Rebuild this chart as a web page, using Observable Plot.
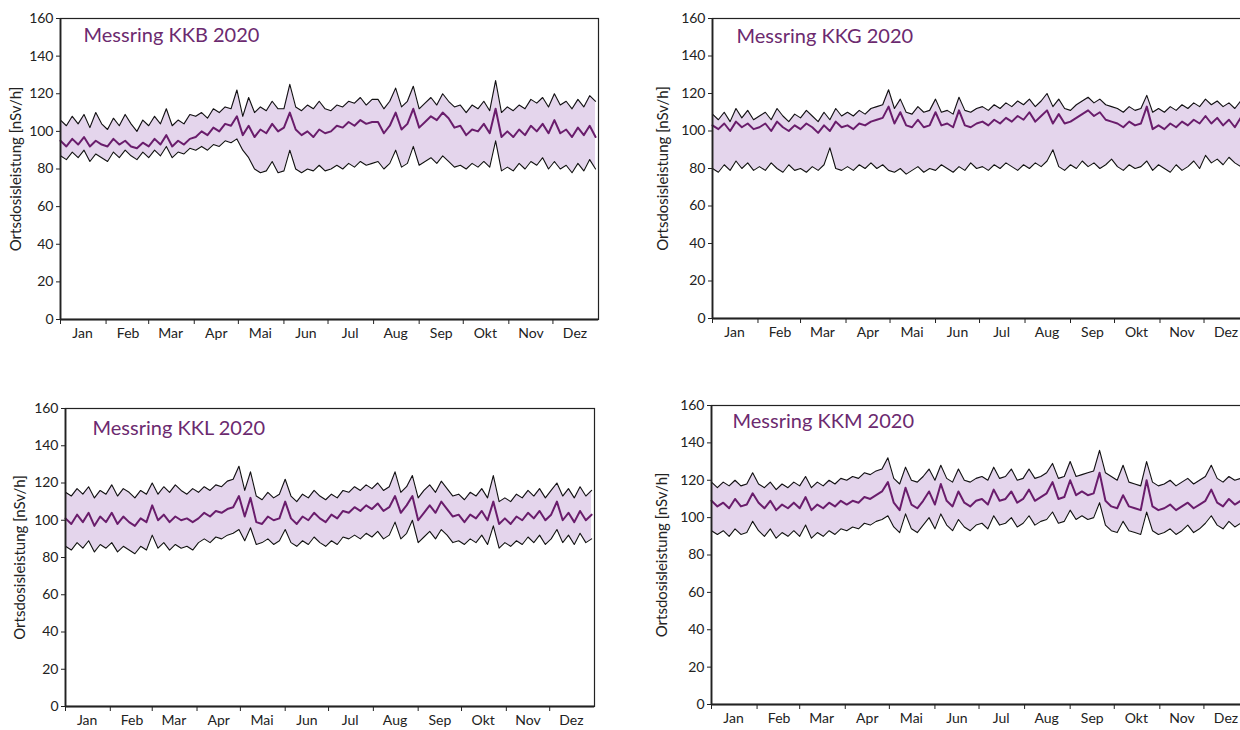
<!DOCTYPE html>
<html><head><meta charset="utf-8">
<script src="https://cdn.jsdelivr.net/npm/d3@7"></script>
<script src="https://cdn.jsdelivr.net/npm/@observablehq/plot@0.6"></script>
<style>
html,body{margin:0;padding:0;background:#fff;overflow:hidden;width:1240px;height:730px;position:relative;}
.panel{position:absolute;}
.panel svg{max-width:none !important;display:block;}
</style></head><body>
<div id="p1" class="panel" style="left:0;top:0;width:600px"></div>
<div id="p2" class="panel" style="left:640px;top:0;width:611px"></div>
<div id="p3" class="panel" style="left:0;top:390px;width:596px"></div>
<div id="p4" class="panel" style="left:640px;top:390px;width:611px"></div>
<script>
// Month labels and y ticks
const monthLabels = ["Jan","Feb","Mar","Apr","Mai","Jun","Jul","Aug","Sep","Okt","Nov","Dez"];
const yTicks = [0,20,40,60,80,100,120,140,160];
const yLabel = "Ortsdosisleistung [nSv/h]";
// sample day-of-year (every 4th day of 2020)
const sampleDays = d3.range(0, 366, 4);

// KKB
const kkbUpper = [106,103,108,104,109,102,110,104, 101,107,103,109,104,100,106, 103,108,104,112,103,106,104,109, 108,110,107,112,110,113,112,122, 108,118,110,113,111,116,112, 112,125,113,111,114,112,116,112, 111,114,113,116,115,118,114,117, 117,112,116,123,113,116,124, 112,115,118,114,120,116,113,114, 110,114,112,116,111,127,110,113, 111,114,112,117,115,118,113, 120,114,116,112,117,113,119,116];
const kkbMean = [95,92,96,93,97,92,95,93, 92,96,93,95,92,91,94, 92,96,93,98,92,95,93,96, 97,100,98,102,100,104,103,108, 98,103,97,101,99,104,100, 102,110,101,98,100,97,101,99, 100,103,102,105,103,106,104,105, 105,99,103,110,101,104,112, 102,105,108,106,110,107,102,103, 98,101,100,104,99,112,97,100, 97,101,98,103,100,104,99, 106,99,101,97,102,98,103,97];
const kkbLower = [87,85,89,86,90,84,88,86, 84,89,86,90,87,85,89, 86,90,87,92,86,89,88,91, 90,92,90,93,92,95,94,96, 90,86,80,78,79,84,78, 79,90,80,78,80,79,82,79, 80,82,80,83,81,84,82,83, 84,80,83,90,81,83,92, 82,84,86,83,87,84,81,82, 80,83,81,84,81,95,79,81, 79,83,80,84,82,86,80, 84,80,82,78,83,79,85,80];

// KKG
const kkgUpper = [109,106,110,105,112,107,111,106, 108,110,106,112,108,105,109, 107,111,108,105,110,106,112,108, 110,108,111,109,112,113,114,122, 112,117,110,109,113,110,111, 117,110,111,109,118,111,110,112, 113,111,114,112,115,113,116,114, 117,113,116,120,113,117,112, 111,114,116,118,115,117,114,113, 112,110,113,111,112,119,110,112, 110,113,111,114,112,115,113, 117,114,116,113,115,112,116,114];
const kkgMean = [103,101,104,100,105,102,104,101, 102,104,100,105,102,100,103, 101,104,102,99,103,100,105,102, 103,101,104,103,105,106,107,113, 104,110,103,102,106,102,103, 110,103,104,102,111,103,102,104, 105,103,106,104,107,105,108,106, 110,105,108,111,104,109,104, 105,107,109,111,108,110,106,105, 104,102,105,103,104,113,101,103, 101,104,102,105,103,106,104, 108,104,107,103,106,102,107,104];
const kkgLower = [80,78,82,79,84,80,83,79, 81,79,83,80,78,82,79, 80,78,81,79,82,91,80,79, 81,79,82,80,83,80,82,79, 78,80,77,79,81,78,80, 79,82,80,78,81,79,83,80, 81,79,82,80,83,81,79,82, 80,83,81,84,90,81,79, 82,80,84,81,83,80,82,85, 81,79,82,80,81,84,79,82, 80,78,82,79,81,84,80, 87,83,85,82,86,83,81,84];

// KKL
const kklUpper = [115,113,117,114,118,112,116,114, 119,113,117,115,112,116,114, 120,114,118,115,119,116,114,117, 115,118,116,119,118,121,122,129, 116,126,113,111,115,112,114, 122,113,110,114,112,116,113,111, 114,112,116,115,118,116,119,117, 120,116,118,126,115,118,124, 112,116,119,115,121,117,113,114, 111,115,113,117,112,124,110,112, 110,114,112,116,113,117,112, 116,120,113,117,112,118,113,116];
const kklMean = [101,98,103,99,104,97,102,99, 104,98,102,99,97,101,99, 108,100,103,99,102,100,101,99, 101,104,102,105,104,106,107,113, 102,112,99,98,102,100,101, 110,101,98,102,100,104,101,99, 103,101,105,104,107,105,108,106, 109,105,107,113,104,108,113, 100,104,108,104,110,106,102,103, 99,103,101,105,100,110,98,101, 98,102,100,104,101,105,100, 103,110,100,104,99,105,100,103];
const kklLower = [86,84,88,85,89,83,87,85, 88,83,86,84,82,86,84, 92,85,88,84,87,85,86,84, 88,90,88,91,90,92,93,95, 89,96,87,88,90,87,89, 95,88,86,89,87,91,88,86, 89,87,91,90,92,90,93,91, 94,90,92,99,90,93,100, 88,91,94,90,95,92,88,89, 87,90,88,92,87,97,85,88, 86,89,87,91,88,92,87, 90,95,88,92,87,93,88,90];

// KKM
const kkmUpper = [119,116,119,117,120,117,118,124, 118,116,119,115,118,116,119, 117,122,116,119,117,120,118,121, 120,122,121,124,123,125,126,132, 121,118,127,120,119,122,126, 120,128,121,119,126,120,119,121, 122,120,127,121,122,126,120,121, 126,121,122,124,129,121,122, 130,122,123,124,125,136,124,122, 120,128,119,118,117,130,119,117, 118,120,117,119,121,118,120, 122,128,121,119,122,120,121,123];
const kkmMean = [109,106,108,105,110,106,107,113, 108,105,109,104,107,105,108, 105,111,104,107,105,108,106,109, 107,109,108,111,110,112,114,119, 108,104,116,107,105,109,114, 107,118,109,106,114,108,106,109, 110,107,115,109,110,114,108,110, 115,109,111,113,119,110,111, 120,112,114,112,113,124,109,106, 105,112,106,105,104,120,106,104, 105,107,104,106,108,105,107, 109,115,108,106,110,107,109,111];
const kkmLower = [93,91,93,90,94,91,92,98, 93,90,94,89,92,90,93, 90,96,89,92,90,93,91,94, 93,95,94,97,96,98,99,101, 95,92,102,94,92,96,100, 94,102,96,93,99,95,93,96, 97,94,101,96,97,100,95,97, 101,96,98,99,103,97,98, 104,99,101,99,100,108,96,93, 92,98,93,92,91,103,93,91, 92,94,91,93,96,92,94, 97,101,96,94,98,95,97,99];

const monthStarts = d3.range(0, 12).map(m => new Date(Date.UTC(2020, m, 1)));
const monthMids = d3.range(0, 12).map(m => new Date(Date.UTC(2020, m, 16)));

function panel(el, title, upper, mean, lower, c) {
  const rows = sampleDays.map((d, i) => ({
    date: new Date(Date.UTC(2020, 0, 1 + d)), upper: upper[i], mean: mean[i], lower: lower[i]
  }));
  const chart = Plot.plot({
    width: c.width, height: c.height,
    marginLeft: c.ml, marginRight: c.mr, marginTop: c.mt, marginBottom: c.mb,
    style: {fontFamily: "Lato, 'Open Sans', sans-serif", fontSize: "14px", color: "#222", background: "transparent", overflow: "visible"},
    x: {type: "utc", domain: [new Date(Date.UTC(2020, 0, 1)), new Date(Date.UTC(2021, 0, 1))]},
    y: {domain: [0, 160]},
    marks: [
      Plot.areaY(rows, {x: "date", y1: "lower", y2: "upper", fill: "#e4d5ec"}),
      Plot.lineY(rows, {x: "date", y: "upper", stroke: "#111", strokeWidth: 1.1}),
      Plot.lineY(rows, {x: "date", y: "lower", stroke: "#111", strokeWidth: 1.1}),
      Plot.lineY(rows, {x: "date", y: "mean", stroke: "#6a1d6c", strokeWidth: 2}),
      Plot.frame({stroke: "#222", strokeWidth: 1.2}),
      Plot.ruleX([new Date(Date.UTC(2020, 0, 1))], {stroke: "#222", strokeWidth: 1.8}),
      Plot.ruleY([0], {stroke: "#222", strokeWidth: 1.8}),
      Plot.axisY({ticks: yTicks, tickSize: 4, tickPadding: 3, fontSize: 14, label: null}),
      Plot.axisY({ticks: [], tickSize: 0, label: yLabel, labelAnchor: "center", labelArrow: "none", labelOffset: c.lo, fontSize: 15}),
      Plot.axisX({ticks: monthStarts, tickSize: 5, tickFormat: () => "", label: null}),
      Plot.axisX({ticks: monthMids, tickSize: 0, tickPadding: 9, tickFormat: d => monthLabels[d.getUTCMonth()], label: null, fontSize: 14}),
      Plot.text([title], {frameAnchor: "top-left", dx: c.tdx, dy: c.tdy, text: d => d, fill: "#6c2a6f", fontSize: 20, textAnchor: "start", lineAnchor: "top"})
    ]
  });
  document.getElementById(el).appendChild(chart);
}

panel("p1", "Messring KKB 2020", kkbUpper, kkbMean, kkbLower, {width: 600, height: 345, ml: 60, mr: 2, mt: 18, mb: 26, lo: 50, tdx: 23, tdy: 9});
panel("p2", "Messring KKG 2020", kkgUpper, kkgMean, kkgLower, {width: 611, height: 345, ml: 72, mr: 2, mt: 18, mb: 27, lo: 55, tdx: 24, tdy: 10});
panel("p3", "Messring KKL 2020", kklUpper, kklMean, kklLower, {width: 596, height: 345, ml: 65, mr: 2, mt: 18, mb: 29, lo: 51, tdx: 27, tdy: 12});
panel("p4", "Messring KKM 2020", kkmUpper, kkmMean, kkmLower, {width: 611, height: 340, ml: 71, mr: 2, mt: 15, mb: 26, lo: 55, tdx: 21, tdy: 8});
</script>
</body></html>
